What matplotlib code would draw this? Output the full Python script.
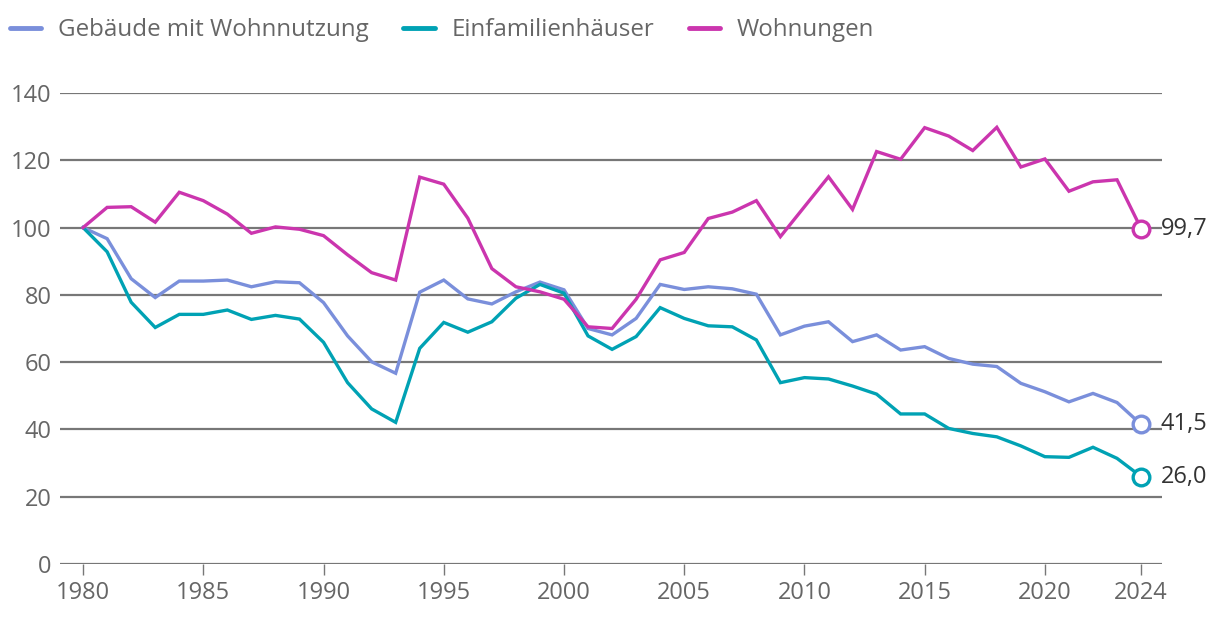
import matplotlib.pyplot as plt
import numpy as np

years = list(range(1980, 2025))

gebaeude = [100, 96.7, 84.8, 79.2, 84.1, 84.1, 84.4, 82.4, 83.9, 83.6,
            77.7, 67.8, 60.1, 56.7, 80.8, 84.4, 78.8, 77.3, 80.9, 83.8,
            81.5, 70.0, 68.1, 73.0, 83.1, 81.6, 82.4, 81.8, 80.2, 68.1,
            70.7, 72.0, 66.1, 68.1, 63.6, 64.6, 61.1, 59.4, 58.7, 53.7,
            51.2, 48.2, 50.7, 48.0, 41.5]

efh = [100, 92.8, 77.8, 70.3, 74.2, 74.2, 75.5, 72.7, 73.9, 72.8,
       65.9, 53.9, 46.1, 42.1, 64.1, 71.8, 68.9, 72.0, 79.0, 83.1,
       80.5, 67.8, 63.8, 67.6, 76.2, 73.0, 70.8, 70.5, 66.6, 53.9,
       55.4, 55.0, 52.9, 50.5, 44.6, 44.6, 40.3, 38.8, 37.8, 35.1,
       31.9, 31.7, 34.7, 31.4, 26.0]

wohnungen = [100, 106.0, 106.2, 101.6, 110.5, 108.0, 104.0, 98.3, 100.2, 99.5,
             97.6, 91.9, 86.6, 84.4, 115.0, 112.9, 102.8, 87.8, 82.4, 80.9,
             78.7, 70.5, 70.0, 78.7, 90.4, 92.6, 102.7, 104.6, 108.0, 97.3,
             106.2, 115.1, 105.4, 122.6, 120.3, 129.7, 127.2, 122.9, 129.8, 118.0,
             120.4, 110.8, 113.6, 114.2, 99.7]

series = [
    ("Gebäude mit Wohnnutzung", gebaeude, "#7a8fdb"),
    ("Einfamilienhäuser", efh, "#00a2b4"),
    ("Wohnungen", wohnungen, "#cb35ae"),
]

xticks = [1980, 1985, 1990, 1995, 2000, 2005, 2010, 2015, 2020, 2024]
yticks = [0, 20, 40, 60, 80, 100, 120, 140]

plt.rcParams['font.family'] = ['Open Sans', 'DejaVu Sans']
fs = 17
lfs = 17.4

fig = plt.figure(figsize=(12.2, 6.32), dpi=100)
ax = fig.add_axes([60 / 1220, 1 - 564 / 632, 1102 / 1220, 471 / 632])

for label, vals, color in series:
    ax.plot(years, vals, color=color, lw=2.4, label=label, zorder=3,
            solid_joinstyle='miter', clip_on=False)
    ax.plot(years[-1], vals[-1], 'o', ms=12, mfc='white', mec=color, mew=2.4,
            zorder=4, clip_on=False)
    ax.annotate("{:.1f}".format(vals[-1]).replace('.', ','), (years[-1], vals[-1]),
                xytext=(14, 0), textcoords='offset points', va='center', ha='left',
                fontsize=fs, color='#333333')

ax.set_xlim(1979.04, 2024.87)
ax.set_ylim(0, 140)
ax.set_yticks(yticks)
ax.set_xticks(xticks)
ax.grid(axis='y', color='#777777', lw=1.6, zorder=1)
for s in ax.spines.values():
    s.set_visible(False)
ax.tick_params(axis='y', length=0, labelsize=fs, labelcolor='#666666', pad=6)
ax.tick_params(axis='x', length=8, width=1, color='#777777', labelsize=fs,
               labelcolor='#666666', pad=4)

leg = fig.legend(loc='center left', bbox_to_anchor=(0.0, 1 - 30 / 632), ncol=3,
                 frameon=False, fontsize=lfs, handlelength=1.3, handletextpad=0.68,
                 columnspacing=1.45, borderaxespad=0)
for t in leg.get_texts():
    t.set_color('#666666')
for h in leg.get_lines():
    h.set_linewidth(3.5)
    h.set_solid_capstyle('round')

plt.savefig("out.png", dpi=100)
